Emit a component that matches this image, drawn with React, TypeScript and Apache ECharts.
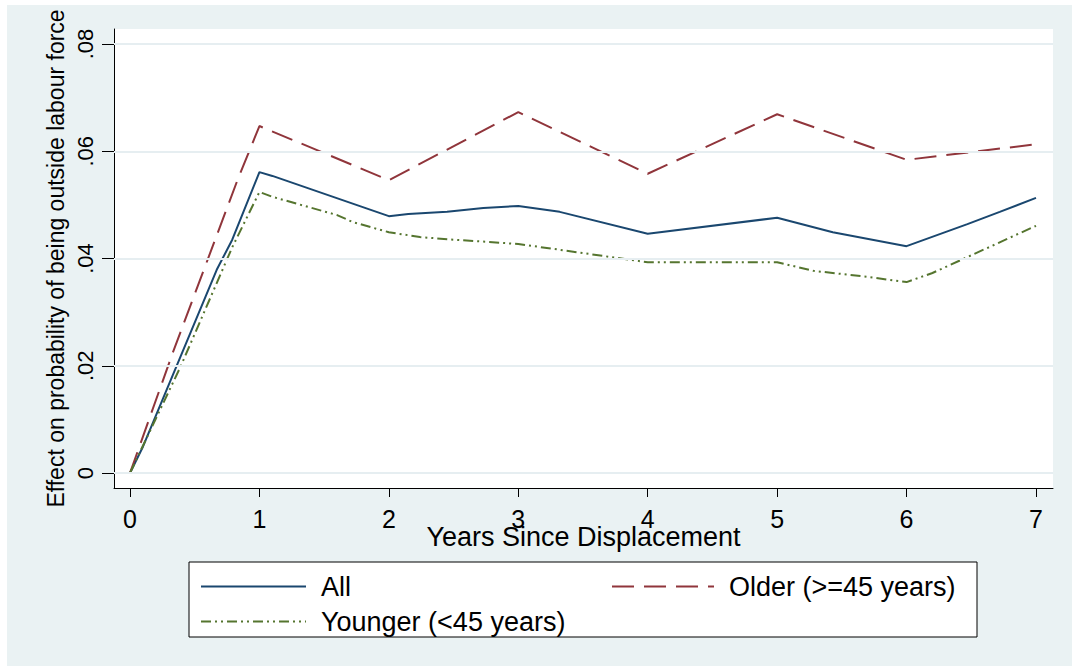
import React, { useEffect, useRef } from "react";
import * as echarts from "echarts";

// Tick values and labels
const xTickValues = [0, 1, 2, 3, 4, 5, 6, 7];
const xTickLabels = ["0", "1", "2", "3", "4", "5", "6", "7"];
const yTickValues = [0, 0.02, 0.04, 0.06, 0.08];
const yTickLabels = ["0", ".02", ".04", ".06", ".08"];

// Series: All
const yearsAll = [0, 0.1, 0.67, 0.79, 1, 1.1, 2, 2.15, 2.45, 2.73, 3, 3.32, 4, 5, 5.43, 6, 6.47, 6.72, 7];
const effectAll = [0, 0.0049, 0.0379, 0.0435, 0.0561, 0.0554, 0.0479, 0.0483, 0.0487, 0.0494, 0.0498, 0.0487, 0.0446, 0.0476, 0.0449, 0.0423, 0.0464, 0.0487, 0.0513];

// Series: Older (>=45 years)
const yearsOlder = [0, 0.33, 0.83, 1, 2, 3, 4, 5, 6, 7];
const effectOlder = [0, 0.0224, 0.0546, 0.0647, 0.0546, 0.0673, 0.0558, 0.0669, 0.0584, 0.0613];

// Series: Younger (<45 years)
const yearsYounger = [0, 0.39, 0.79, 1, 1.1, 1.6, 1.72, 2, 2.24, 2.5, 2.76, 3, 3.27, 4, 5, 5.28, 5.69, 6, 6.2, 7];
const effectYounger = [0, 0.0198, 0.0421, 0.0524, 0.0515, 0.0481, 0.0468, 0.0449, 0.044, 0.0435, 0.0431, 0.0427, 0.0418, 0.0393, 0.0393, 0.0377, 0.0366, 0.0356, 0.0373, 0.0461];

const zip = (xs: number[], ys: number[]) => xs.map((x, i) => [x, ys[i]]);

const FONT = "Liberation Sans";

export default function App() {
  const ref = useRef<HTMLDivElement>(null);

  useEffect(() => {
    if (!ref.current) return;
    const chart = echarts.init(ref.current, null, { renderer: "svg" });

    const gridLeft = 114;
    const gridRight = 1053;
    const gridTop = 29;
    const gridBottom = 488;
    // pixel anchors for axis scaling
    const x0px = 130, x7px = 1036;
    const y0px = 473, y8px = 44;
    const pxPerX = (x7px - x0px) / 7;
    const pxPerY = (y0px - y8px) / 0.08;
    const xMin = -(x0px - gridLeft) / pxPerX;
    const xMax = 7 + (gridRight - x7px) / pxPerX;
    const yMin = -(gridBottom - y0px) / pxPerY;
    const yMax = 0.08 + (y8px - gridTop) / pxPerY;

    const labelFor = (vals: number[], labels: string[]) => (v: number) => {
      const i = vals.findIndex((t) => Math.abs(t - v) < 1e-9);
      return i >= 0 ? labels[i] : "";
    };

    const legendCommon = {
      orient: "vertical",
      top: 573,
      padding: 0,
      itemHeight: 16,
      itemGap: 8,
      itemStyle: { opacity: 0 },
      textStyle: { fontFamily: FONT, fontSize: 27, lineHeight: 26, color: "#000", padding: [0, 0, 0, 10] },
      selectedMode: false,
    };

    chart.setOption({
      animation: false,
      backgroundColor: "#EAF2F3",
      textStyle: { fontFamily: FONT },
      grid: {
        left: gridLeft,
        top: gridTop,
        width: gridRight - gridLeft,
        height: gridBottom - gridTop,
        show: true,
        backgroundColor: "#ffffff",
        borderWidth: 0,
        containLabel: false,
        outerBoundsMode: "none",
      },
      xAxis: {
        type: "value",
        min: xMin,
        max: xMax,
        name: "Years Since Displacement",
        nameLocation: "middle",
        nameGap: 35,
        nameMoveOverlap: false,
        nameTextStyle: { fontFamily: FONT, fontSize: 27, color: "#000" },
        axisLine: { show: true, onZero: false, lineStyle: { color: "#000", width: 1 } },
        axisTick: { show: true, length: 9, customValues: xTickValues, lineStyle: { color: "#000", width: 1 } },
        axisLabel: {
          customValues: xTickValues,
          formatter: labelFor(xTickValues, xTickLabels),
          fontFamily: FONT,
          fontSize: 25,
          color: "#000",
          margin: 18,
        },
        splitLine: { show: false },
      },
      yAxis: {
        type: "value",
        min: yMin,
        max: yMax,
        name: "Effect on probability of being outside labour force",
        nameLocation: "middle",
        nameRotate: 90,
        nameGap: 47,
        nameMoveOverlap: false,
        nameTextStyle: { fontFamily: FONT, fontSize: 23, color: "#000" },
        axisLine: { show: true, onZero: false, lineStyle: { color: "#000", width: 1 } },
        axisTick: { show: true, length: 12, customValues: yTickValues, lineStyle: { color: "#000", width: 1 } },
        axisLabel: {
          customValues: yTickValues,
          formatter: labelFor(yTickValues, yTickLabels),
          rotate: 90,
          fontFamily: FONT,
          fontSize: 22,
          color: "#000",
          margin: 18,
        },
        splitLine: { show: false },
      },
      legend: [
        {
          ...legendCommon,
          data: ["All", "Younger (<45 years)"],
          left: 200,
          itemWidth: 105,
        },
        {
          ...legendCommon,
          data: ["Older (>=45 years)"],
          left: 611,
          itemWidth: 102,
        },
      ],
      graphic: [
        {
          type: "rect",
          silent: true,
          shape: { x: 0, y: 0, width: 1072, height: 5 },
          style: { fill: "#ffffff" },
        },
        {
          type: "rect",
          silent: true,
          shape: { x: 0, y: 0, width: 7, height: 666 },
          style: { fill: "#ffffff" },
        },
        {
          type: "rect",
          z: 0,
          shape: { x: 189, y: 562, width: 788, height: 75 },
          style: { fill: "#ffffff", stroke: "#000000", lineWidth: 1 },
          silent: true,
        },
      ],
      series: [
        {
          name: "gridlines",
          type: "line",
          data: [],
          symbol: "none",
          silent: true,
          lineStyle: { opacity: 0 },
          markLine: {
            silent: true,
            symbol: "none",
            label: { show: false },
            lineStyle: { type: "solid", color: "#E6EEF1", width: 2 },
            data: yTickValues.map((v) => ({ yAxis: v })),
          },
        },
        {
          name: "All",
          type: "line",
          data: zip(yearsAll, effectAll),
          symbol: "none",
          showSymbol: false,
          lineStyle: { color: "#1A476F", width: 2, type: "solid" },
          itemStyle: { color: "#1A476F" },
        },
        {
          name: "Older (>=45 years)",
          type: "line",
          data: zip(yearsOlder, effectOlder),
          symbol: "none",
          showSymbol: false,
          lineStyle: { color: "#90353B", width: 2, type: [22, 10] },
          itemStyle: { color: "#90353B" },
        },
        {
          name: "Younger (<45 years)",
          type: "line",
          data: zip(yearsYounger, effectYounger),
          symbol: "none",
          showSymbol: false,
          lineStyle: { color: "#55752F", width: 2, type: [10, 4, 2, 4, 2, 4] },
          itemStyle: { color: "#55752F" },
        },
      ],
    });

    return () => chart.dispose();
  }, []);

  return (
    <div
      ref={ref}
      style={{ position: "absolute", left: 0, top: 0, width: 1072, height: 666 }}
    />
  );
}
